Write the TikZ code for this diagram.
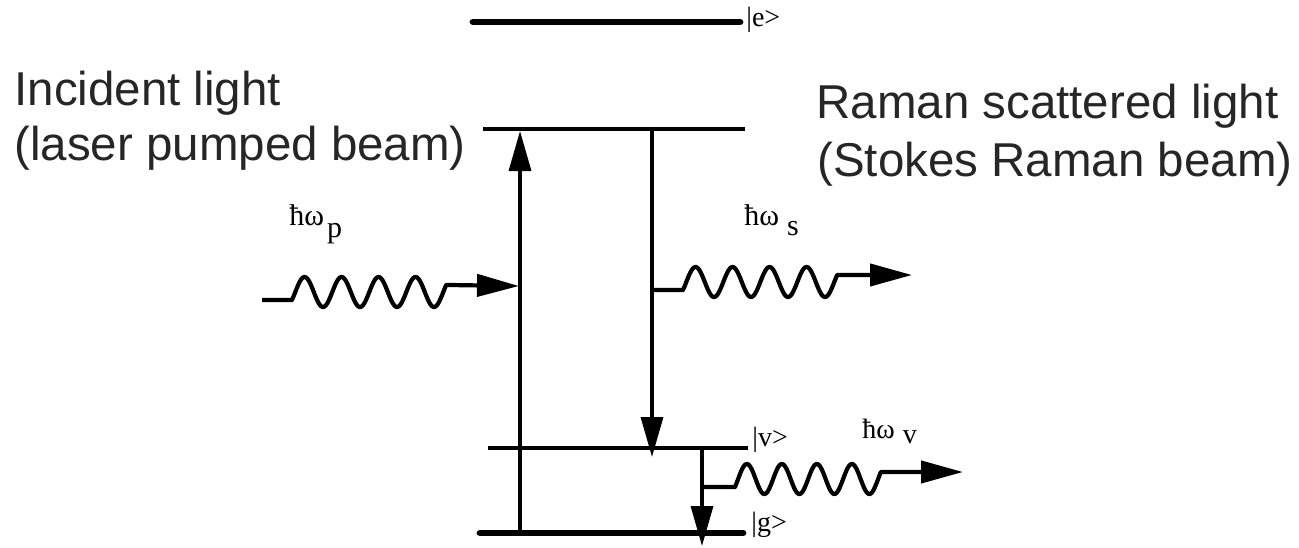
\documentclass[tikz,border=0pt]{standalone}
\usepackage{fontspec}
\setmainfont{Liberation Serif}
\newfontfamily\labelsans{Liberation Sans}
\usetikzlibrary{arrows.meta}
\begin{document}
\begin{tikzpicture}[x=0.5pt,y=-0.5pt,
  lvlthin/.style={line width=2pt},
  lvlthick/.style={line width=3.4pt,line cap=round},
  trans/.style={line width=1.7pt,-{Triangle[length=20pt,width=11pt]}},
  wavy/.style={line width=2.1pt,line join=round,-{Triangle[length=21pt,width=11pt]}},
  sanslabel/.style={font=\labelsans\fontsize{23.75}{28}\selectfont,text=black!85,inner sep=0pt,anchor=base west},
  ketlabel/.style={font=\fontsize{14}{16}\selectfont,inner sep=0pt,anchor=west},
  hwlabel/.style={font=\fontsize{15}{17}\selectfont,inner sep=0pt,anchor=base west},
]
\useasboundingbox (0,0) rectangle (1299,547);

% energy levels
\coordinate (eL) at (473,22);  \coordinate (eR) at (740,22);
\coordinate (uL) at (483,129); \coordinate (uR) at (745,129);
\coordinate (vL) at (488,448); \coordinate (vR) at (748,448);
\coordinate (gL) at (480,533); \coordinate (gR) at (743,533);
\draw[lvlthick] (eL) -- (eR);
\draw[lvlthin]  (uL) -- (uR);
\draw[lvlthin]  (vL) -- (vR);
\draw[lvlthick] (gL) -- (gR);

\node[ketlabel] (ke) at (746,20)  {|e>};
\node[ketlabel] (kv) at (752,440) {|v>};
\node[ketlabel] (kg) at (751,525) {|g>};

% vertical transitions
\coordinate (upbot) at (520,533); \coordinate (uptop) at (520,131);
\draw[trans] (upbot) -- (uptop);
\coordinate (dnatop) at (652,129); \coordinate (dnatip) at (652,457);
\draw[trans] (dnatop) -- (dnatip);
\coordinate (dnbtop) at (702,448); \coordinate (dnbtip) at (702,546);
\draw[trans] (dnbtop) -- (dnbtip);

% photons
\coordinate (ps) at (262,300); \coordinate (pw) at (292,300); \coordinate (pt) at (519,286);
\draw[wavy] (ps) -- (pw) -- plot[domain=-32:1468,samples=220] ({292+(\x+32)/360*37},{292-15*sin(\x)}) -- (pt);
\coordinate (ss) at (652,290); \coordinate (sw) at (683,290); \coordinate (st) at (912,275);
\draw[wavy] (ss) -- (sw) -- plot[domain=-32:1468,samples=220] ({683+(\x+32)/360*37},{282-15*sin(\x)}) -- (st);
\coordinate (vs) at (702,487); \coordinate (vw) at (735,487); \coordinate (vt) at (963,472);
\draw[wavy] (vs) -- (vw) -- plot[domain=-32:1468,samples=220] ({735+(\x+32)/360*35},{479-15*sin(\x)}) -- (vt);

% photon labels
\node[hwlabel] (hwp) at (289,225) {ħω\hspace{1.5pt}\raisebox{-6pt}{p}};
\node[hwlabel] (hws) at (744,225) {ħω\hspace{4pt}\raisebox{-5pt}{s}};
\node[hwlabel,font=\fontsize{14}{16}\selectfont] (hwv) at (862,438) {ħω\hspace{4pt}\raisebox{-2.5pt}{v}};

% beam descriptions
\node[sanslabel] (inc1) at (14,105)  {Incident light};
\node[sanslabel] (inc2) at (14,160)  {(laser pumped beam)};
\node[sanslabel] (ram1) at (816,118) {Raman scattered light};
\node[sanslabel] (ram2) at (817,176) {(Stokes Raman beam)};
\end{tikzpicture}
\end{document}
